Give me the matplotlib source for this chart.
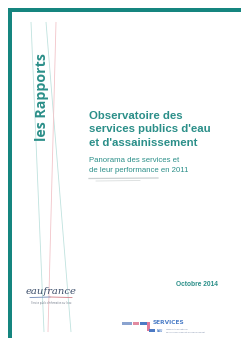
import matplotlib
matplotlib.use("Agg")
import matplotlib.pyplot as plt
from matplotlib.patches import Rectangle

# ---- Cover content ----
side_label = "les Rapports"
title_lines = ["Observatoire des", "services publics d'eau", "et d'assainissement"]
subtitle_lines = ["Panorama des services et", "de leur performance en 2011"]
date_label = "Octobre 2014"
logo_name = "eaufrance"
logo_tagline = "Service public d'information sur l'eau"
services_name = "SERVICES"
services_tagline = ["Observatoire national", "des services d'eau et d'assainissement"]

# decorative strokes (x at top, x at bottom), page pixels
stroke_tops = [31, 46, 56]
stroke_bottoms = [44, 71, 48]
stroke_colors = ["#bfe2de", "#bfe2de", "#f2c4c9"]

TEAL = "#15857f"
TEXT_TEAL = "#2b8f89"

W, H = 241, 342
fig = plt.figure(figsize=(W / 100, H / 100), dpi=100)
ax = fig.add_axes([0, 0, 1, 1])
ax.set_xlim(0, W)
ax.set_ylim(H, 0)
ax.axis("off")

# page frame (top and left)
ax.add_patch(Rectangle((8, 8), W - 8, 4, color=TEAL, lw=0))
ax.add_patch(Rectangle((8, 8), 4, 330, color=TEAL, lw=0))

# slanted thin strokes
for x0, x1, c in zip(stroke_tops, stroke_bottoms, stroke_colors):
    ax.plot([x0, x1], [22, 332], color=c, lw=0.6, solid_capstyle="butt")

# vertical side label
ax.text(42, 141, side_label, rotation=90, ha="center", va="bottom",
        color=TEXT_TEAL, fontsize=10.2, fontweight="bold", family="Open Sans")

# title block
for i, line in enumerate(title_lines):
    ax.text(89, 116 + i * 13.3, line, ha="left", va="center", color=TEXT_TEAL,
            fontsize=8.2, fontweight="bold", family="Liberation Sans")

for i, line in enumerate(subtitle_lines):
    ax.text(89, 161 + i * 9.2, line, ha="left", va="center", color=TEXT_TEAL,
            fontsize=5.6, family="Liberation Sans")

# thin double rule under subtitle
ax.plot([89, 158], [178.5, 178], color="#c9cfd0", lw=0.9)
ax.plot([96, 140], [181, 180.5], color="#d9dddd", lw=0.6)

# date
ax.text(197, 285, date_label, ha="center", va="center", color=TEXT_TEAL,
        fontsize=4.8, fontweight="bold", family="Liberation Sans")

# eaufrance logo
ax.text(51, 292, logo_name, ha="center", va="center", color="#3d4f6b",
        fontsize=7.2, style="italic", family="DejaVu Serif")
ax.plot([30, 50], [297.5, 297], color="#6d86b5", lw=0.6)
ax.plot([50, 72], [297, 297.5], color="#d07a84", lw=0.6)
ax.text(51, 303, logo_tagline, ha="center", va="center", color="#7a8290",
        fontsize=1.8, family="Liberation Sans")

# SERVICES logo
ax.add_patch(Rectangle((122, 322), 10, 2.5, color="#8aa3cf", lw=0))
ax.add_patch(Rectangle((133, 322), 6, 2.5, color="#e28aa0", lw=0))
ax.add_patch(Rectangle((140, 322), 8, 2.5, color="#4c7ac4", lw=0))
ax.add_patch(Rectangle((147, 322), 2.5, 9, color="#e07a9a", lw=0))
ax.add_patch(Rectangle((149, 329), 6, 2.5, color="#4c7ac4", lw=0))
ax.text(153, 322, services_name, ha="left", va="center", color="#4d7fc8",
        fontsize=4.2, fontweight="bold", family="Liberation Sans Narrow")
ax.text(157, 331, "EAU", ha="left", va="center", color="#4d7fc8",
        fontsize=2.2, fontweight="bold", family="Liberation Sans")
for i, line in enumerate(services_tagline):
    ax.text(166, 329.5 + i * 2.6, line, ha="left", va="center", color="#7a8aa8",
            fontsize=1.6, family="Liberation Sans")

fig.savefig("out.png", dpi=100)
